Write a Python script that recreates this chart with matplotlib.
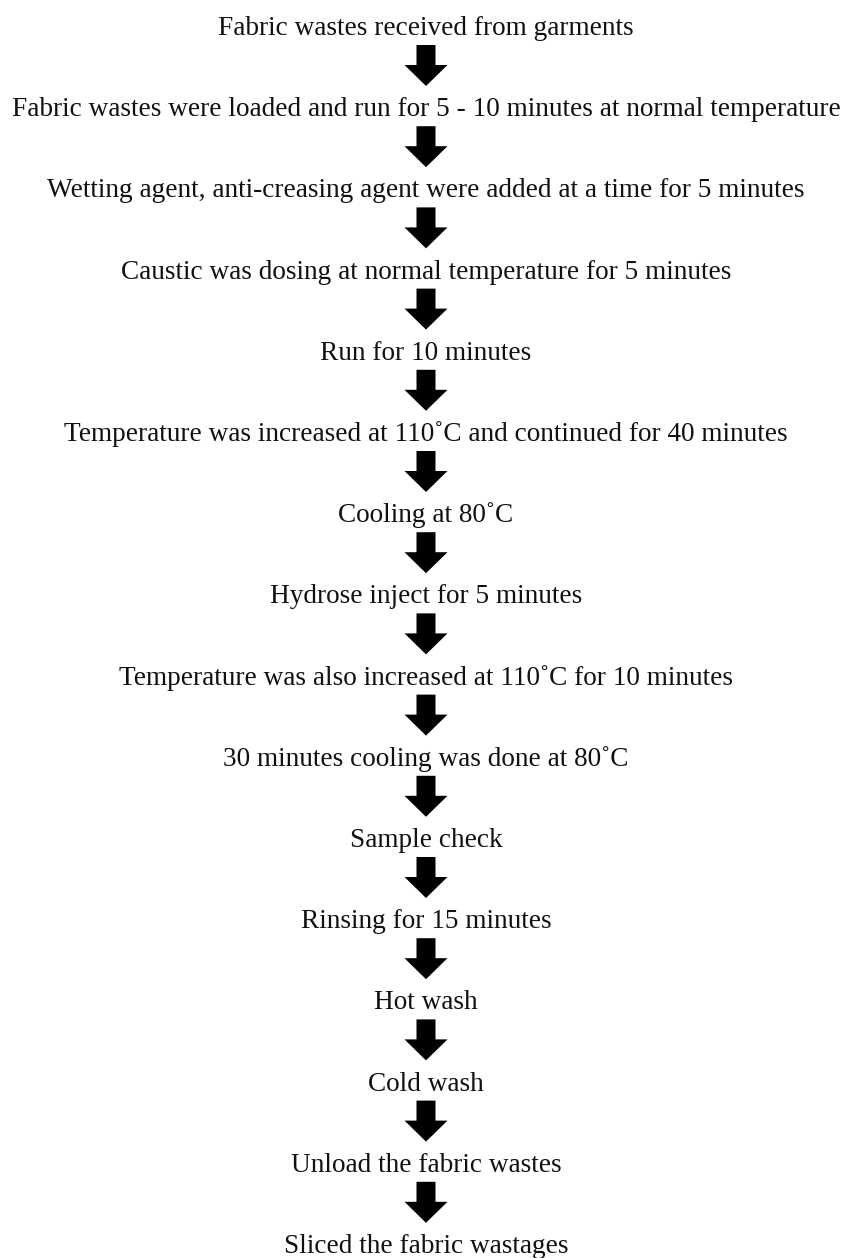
import matplotlib
matplotlib.use("Agg")
from matplotlib import pyplot as plt
from matplotlib.patches import Polygon

# process steps, top to bottom
steps = [
    "Fabric wastes received from garments",
    "Fabric wastes were loaded and run for 5 - 10 minutes at normal temperature",
    "Wetting agent, anti-creasing agent were added at a time for 5 minutes",
    "Caustic was dosing at normal temperature for 5 minutes",
    "Run for 10 minutes",
    "Temperature was increased at 110\u02daC and continued for 40 minutes",
    "Cooling at 80\u02daC",
    "Hydrose inject for 5 minutes",
    "Temperature was also increased at 110\u02daC for 10 minutes",
    "30 minutes cooling was done at 80\u02daC",
    "Sample check",
    "Rinsing for 15 minutes",
    "Hot wash",
    "Cold wash",
    "Unload the fabric wastes",
    "Sliced the fabric wastages",
]

W, H = 847, 1258
fig = plt.figure(figsize=(W / 100, H / 100), dpi=100)
ax = fig.add_axes([0, 0, 1, 1])
ax.set_xlim(0, W)
ax.set_ylim(H, 0)
ax.axis("off")

cx = 426
first_base = 35
gap = 81.2

def arrow(y0):
    # block arrow pointing down, top of shaft at y0
    sw, hw, sl, hl = 9.5, 21.5, 20, 21
    pts = [(cx - sw, y0), (cx + sw, y0), (cx + sw, y0 + sl), (cx + hw, y0 + sl),
           (cx, y0 + sl + hl), (cx - hw, y0 + sl), (cx - sw, y0 + sl)]
    ax.add_patch(Polygon(pts, closed=True, color="black", lw=0))

for i, s in enumerate(steps):
    base = first_base + i * gap
    ax.text(cx, base, s, ha="center", va="baseline", fontsize=19.6,
            family=["Liberation Serif", "DejaVu Serif"], color="#111111")
    if i < len(steps) - 1:
        arrow(base + 10)

fig.savefig("out.png", dpi=100)
